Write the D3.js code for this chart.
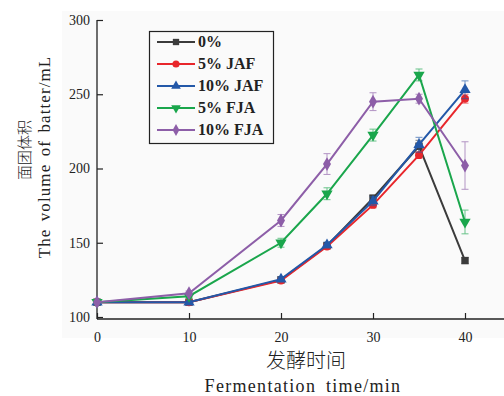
<!DOCTYPE html>
<html>
<head>
<meta charset="utf-8">
<script src="https://cdn.jsdelivr.net/npm/d3@7"></script>
<style>
  body { margin: 0; background: #fff; }
  svg { display: block; }
  text { fill: #222; }
</style>
</head>
<body>
<svg id="chart" width="504" height="396"></svg>
<script>
// -------------------- DATA -------------------- //
const times = [0, 10, 20, 25, 30, 35, 40];
const seriesNames = ["0%", "5% JAF", "10% JAF", "5% FJA", "10% FJA"];
const v0 = [110, 110, 125, 148, 180, 215, 138];
const vJAF5 = [110, 110, 124.5, 147.5, 175.5, 209, 247];
const vJAF10 = [110, 110, 125.5, 148.5, 178, 216, 253];
const vFJA5 = [110, 114, 150, 183, 222.5, 263, 164];
const vFJA10 = [110, 116, 165, 203, 245, 247, 202];
const e0 = [1, 1, 1, 1.5, 2, 4, 2];
const eJAF5 = [1, 1, 1, 1.5, 2, 2, 3];
const eJAF10 = [1, 1, 1.5, 2, 3, 5, 6];
const eFJA5 = [1, 1, 3, 4, 4, 4, 8];
const eFJA10 = [1, 1.5, 4, 7, 6, 3, 16];
const yTicks = [100, 150, 200, 250, 300];
const xTicks = [0, 10, 20, 30, 40];

const colors = ["#3b3b3b", "#e8262b", "#2358a8", "#1aa64c", "#8d5ea8"];
const symbols = [d3.symbolSquare, d3.symbolCircle, d3.symbolTriangle, d3.symbolTriangle, d3.symbolDiamond];
const flips = [0, 0, 0, 180, 0];

const allValues = [v0, vJAF5, vJAF10, vFJA5, vFJA10];
const allErrors = [e0, eJAF5, eJAF10, eFJA5, eFJA10];

const SERIF = "'Liberation Serif', 'Times New Roman', Times, 'DejaVu Serif', serif";
const CJK = "'Noto Sans CJK SC', sans-serif";

// -------------------- SETUP -------------------- //
let svg = d3.select("#chart");

let x = d3.scaleLinear().domain([0, 40]).range([97, 465]);
let y = d3.scaleLinear().domain([100, 300]).range([317, 20]);

// plot background
svg.append("rect")
    .attr("x", 62).attr("y", 11)
    .attr("width", 442).attr("height", 327)
    .attr("fill", "#fafafa");

// -------------------- AXES -------------------- //
let xAxis = svg.append("g")
    .attr("transform", "translate(0,319)")
    .call(d3.axisBottom(x).tickValues(xTicks).tickSize(-6).tickSizeOuter(0).tickPadding(13));
xAxis.attr("font-family", null).attr("font-size", null);
xAxis.select(".domain").remove();
xAxis.selectAll("line").attr("stroke", "#222").attr("stroke-width", 1.2);
xAxis.selectAll("text").style("font-family", SERIF).style("font-size", "14px").attr("fill", "#222");

let yAxis = svg.append("g")
    .attr("transform", "translate(97,0)")
    .call(d3.axisLeft(y).tickValues(yTicks).tickSize(-6).tickSizeOuter(0).tickPadding(7));
yAxis.attr("font-family", null).attr("font-size", null);
yAxis.select(".domain").remove();
yAxis.selectAll("line").attr("stroke", "#222").attr("stroke-width", 1.2);
yAxis.selectAll("text").style("font-family", SERIF).style("font-size", "14px").attr("fill", "#222");

svg.append("line")
    .attr("x1", 97).attr("x2", 504).attr("y1", 319).attr("y2", 319)
    .attr("stroke", "#222").attr("stroke-width", 1.3);
svg.append("line")
    .attr("x1", 97).attr("x2", 97).attr("y1", 20).attr("y2", 319)
    .attr("stroke", "#222").attr("stroke-width", 1.3);

// -------------------- AXIS TITLES -------------------- //
svg.append("text")
    .attr("transform", "translate(30,150) rotate(-90)")
    .attr("text-anchor", "middle")
    .style("font-family", CJK).style("font-weight", 300)
    .style("font-size", "15px")
    .text("面团体积");
svg.append("text")
    .attr("transform", "translate(50,157) rotate(-90)")
    .attr("text-anchor", "middle")
    .style("font-family", SERIF)
    .style("font-size", "17px")
    .style("letter-spacing", "1.1px")
    .style("word-spacing", "2px")
    .text("The volume of batter/mL");

svg.append("text")
    .attr("x", 306).attr("y", 368)
    .attr("text-anchor", "middle")
    .style("font-family", CJK).style("font-weight", 300)
    .style("font-size", "20px")
    .text("发酵时间");
svg.append("text")
    .attr("x", 303).attr("y", 392)
    .attr("text-anchor", "middle")
    .style("font-family", SERIF)
    .style("font-size", "18px")
    .style("letter-spacing", "1.3px")
    .style("word-spacing", "4px")
    .text("Fermentation time/min");

// -------------------- SERIES -------------------- //
let line = d3.line().x(d => x(d.t)).y(d => y(d.v));

allValues.forEach(function (vals, i) {
    let pts = times.map((t, j) => ({ t: t, v: vals[j], e: allErrors[i][j] }));
    let g = svg.append("g");

    // error bars
    let eb = g.selectAll(".eb").data(pts).enter().append("g")
        .attr("stroke", colors[i]).attr("stroke-width", 1).attr("opacity", 0.65);
    eb.append("line")
        .attr("x1", d => x(d.t)).attr("x2", d => x(d.t))
        .attr("y1", d => y(d.v - d.e)).attr("y2", d => y(d.v + d.e));
    eb.append("line")
        .attr("x1", d => x(d.t) - 3.5).attr("x2", d => x(d.t) + 3.5)
        .attr("y1", d => y(d.v - d.e)).attr("y2", d => y(d.v - d.e));
    eb.append("line")
        .attr("x1", d => x(d.t) - 3.5).attr("x2", d => x(d.t) + 3.5)
        .attr("y1", d => y(d.v + d.e)).attr("y2", d => y(d.v + d.e));

    g.append("path")
        .datum(pts)
        .attr("fill", "none")
        .attr("stroke", colors[i])
        .attr("stroke-width", 2)
        .attr("d", line);

    g.selectAll(".mk").data(pts).enter().append("path")
        .attr("transform", d => `translate(${x(d.t)},${y(d.v)}) rotate(${flips[i]})`)
        .attr("d", d3.symbol().type(symbols[i]).size(i == 1 ? 50 : 55))
        .attr("fill", colors[i]);
});

// -------------------- LEGEND -------------------- //
let legend = svg.append("g");
legend.append("rect")
    .attr("x", 149.5).attr("y", 31.5)
    .attr("width", 124).attr("height", 112)
    .attr("fill", "#fafafa")
    .attr("stroke", "#222").attr("stroke-width", 1.2);

seriesNames.forEach(function (name, i) {
    let ly = 42 + i * 22;
    legend.append("line")
        .attr("x1", 157).attr("x2", 195).attr("y1", ly).attr("y2", ly)
        .attr("stroke", colors[i]).attr("stroke-width", 2);
    legend.append("path")
        .attr("transform", `translate(176,${ly}) rotate(${flips[i]})`)
        .attr("d", d3.symbol().type(symbols[i]).size(40))
        .attr("fill", colors[i]);
    legend.append("text")
        .attr("x", 198).attr("y", ly + 5)
        .style("font-family", SERIF)
        .style("font-size", "16px")
        .style("font-weight", "bold")
        .text(name);
});
</script>
</body>
</html>
